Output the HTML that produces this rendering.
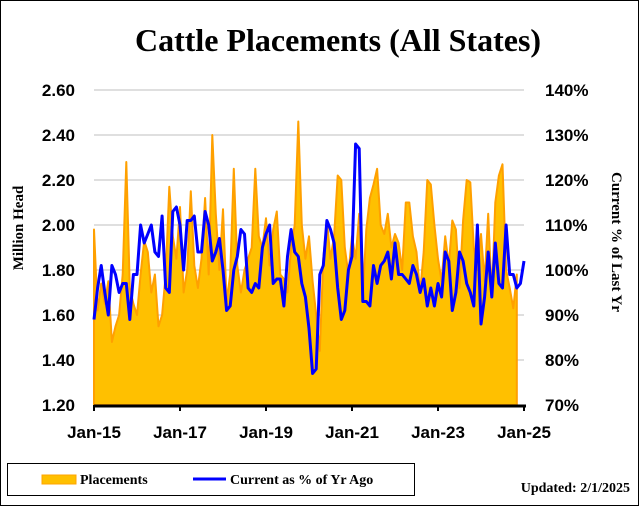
<!DOCTYPE html>
<html><head><meta charset="utf-8"><style>
body{margin:0;background:#fff}
#wrap{position:relative;width:639px;height:506px;overflow:hidden}
svg text{font-family:"Liberation Sans",sans-serif}
</style></head><body>
<div id="wrap">
<svg id="chart" width="639" height="506" xmlns="http://www.w3.org/2000/svg">
<rect x="0.5" y="0.5" width="638" height="505" fill="#fff" stroke="#000"/>
<text x="338" y="51" text-anchor="middle" font-size="32" font-weight="bold" style="font-family:'Liberation Serif',serif">Cattle Placements (All States)</text>
<g id="grid"></g>
<g id="area"></g>
<g id="line"></g>
<g id="axes"></g>
<text transform="translate(23,228) rotate(-90)" text-anchor="middle" font-size="15" font-weight="bold" style="font-family:'Liberation Serif',serif">Million Head</text>
<text transform="translate(612,242) rotate(90)" text-anchor="middle" font-size="15" font-weight="bold" style="font-family:'Liberation Serif',serif">Current % of Last Yr</text>
<g>
<rect x="7.5" y="463.5" width="407" height="32" fill="#fff" stroke="#000"/>
<rect x="42" y="475" width="34" height="9" fill="#FFC000" stroke="#FFA500"/>
<text x="80" y="484" font-size="14" font-weight="bold" style="font-family:'Liberation Serif',serif">Placements</text>
<line x1="193" y1="479" x2="226" y2="479" stroke="#0000FF" stroke-width="3"/>
<text x="230" y="484" font-size="14" font-weight="bold" style="font-family:'Liberation Serif',serif">Current as % of Yr Ago</text>
</g>
<text x="630" y="492" text-anchor="end" font-size="14" font-weight="bold" style="font-family:'Liberation Serif',serif">Updated: 2/1/2025</text>
</svg>
</div>
<script>
const placements = [
1.98,1.62,1.74,1.65,1.75,1.48,1.55,1.60,1.78,2.28,1.72,1.65,
1.60,1.78,1.93,1.88,1.70,1.78,1.55,1.60,1.78,2.17,1.95,1.85,
2.08,1.70,1.80,2.15,1.82,1.72,1.85,2.12,1.78,2.40,2.05,1.80,
2.07,1.66,1.78,2.25,1.82,1.70,1.80,1.85,1.90,2.25,1.95,1.90,
2.03,1.82,1.98,2.06,1.78,1.76,1.70,1.90,2.00,2.46,2.00,1.85,
1.95,1.75,1.60,1.44,1.85,2.02,1.85,1.95,2.22,2.20,1.90,1.78,
1.95,1.85,2.05,1.68,1.98,2.12,2.18,2.25,2.00,1.96,2.05,1.90,
1.96,1.92,1.80,2.10,2.10,1.95,1.88,1.70,1.88,2.20,2.18,2.00,
1.85,1.75,1.95,1.82,2.02,1.98,1.72,2.02,2.20,2.19,1.90,1.80,
1.96,1.75,2.05,1.68,2.10,2.22,2.27,1.80,1.72,1.63,1.78
];
const pctYrAgo = [
89,96,101,95,90,101,99,95,97,97,89,99,
99,110,106,108,110,104,103,112,96,95,113,114,
110,100,111,111,112,104,104,113,110,102,104,107,
100,91,92,100,103,109,108,96,95,97,96,105,
108,110,97,98,98,92,103,109,104,103,97,94,
87,77,78,99,101,111,109,106,96,89,91,100,
103,128,127,93,93,92,101,97,101,102,104,98,
106,99,99,98,97,101,99,95,98,92,96,92,
97,94,104,102,91,95,104,102,97,95,92,110,
88,94,104,94,106,97,96,110,99,99,96,97,102
];
const leftTicks = ["1.20","1.40","1.60","1.80","2.00","2.20","2.40","2.60"];
const rightTicks = ["70%","80%","90%","100%","110%","120%","130%","140%"];
const xLabels = ["Jan-15","Jan-17","Jan-19","Jan-21","Jan-23","Jan-25"];

const X0=94, X1=524, Y0=405, Y1=90, NS="http://www.w3.org/2000/svg";
const xScale = i => X0 + i*(X1-X0)/120;
const yL = v => Y0 - (v-1.2)/(2.6-1.2)*(Y0-Y1);
const yR = v => Y0 - (v-70)/(140-70)*(Y0-Y1);
function mk(tag, attrs, parent){const e=document.createElementNS(NS,tag);for(const k in attrs)e.setAttribute(k,attrs[k]);parent.appendChild(e);return e;}
const grid=document.getElementById('grid'), axes=document.getElementById('axes');
leftTicks.forEach((t,i)=>{
  const v=parseFloat(t), y=yL(v);
  if(i>0){const g=mk('line',{x1:X0,x2:X1,y1:y,y2:y,stroke:'#bfbfbf','stroke-width':1},grid);
  
  }
  const tx=mk('text',{x:75,y:y+6,'text-anchor':'end','font-size':17,'font-weight':'bold'},axes);
  tx.textContent=t;
  
  
});
rightTicks.forEach((t,i)=>{
  const v=parseFloat(t), y=yR(v);
  const tx=mk('text',{x:545,y:y+6,'font-size':17,'font-weight':'bold'},axes);
  tx.textContent=t;
  
  
});
let d='M'+xScale(0)+','+Y0;
placements.forEach((v,i)=>{d+=' L'+xScale(i).toFixed(1)+','+yL(v).toFixed(1);});
d+=' L'+xScale(placements.length-1)+','+Y0+' Z';
const area=mk('path',{d:d,fill:'#FFC000',stroke:'#FFA000','stroke-width':2,'stroke-linejoin':'round'},document.getElementById('area'));


let pts=pctYrAgo.map((v,i)=>xScale(i).toFixed(1)+','+yR(v).toFixed(1)).join(' ');
const ln=mk('polyline',{points:pts,fill:'none',stroke:'#0000FF','stroke-width':3,'stroke-linejoin':'round'},document.getElementById('line'));


const ax=mk('line',{x1:X0,x2:X1+2,y1:Y0+1,y2:Y0+1,stroke:'#000','stroke-width':3},axes);


xLabels.forEach((t,i)=>{
  const x=xScale(i*24);
  const tk=mk('line',{x1:x,x2:x,y1:Y0,y2:Y0+6,stroke:'#000','stroke-width':2},axes);
  
  
  const tx=mk('text',{x:x,y:438,'text-anchor':'middle','font-size':17,'font-weight':'bold'},axes);
  tx.textContent=t;
  
  
});
</script>
</body></html>
